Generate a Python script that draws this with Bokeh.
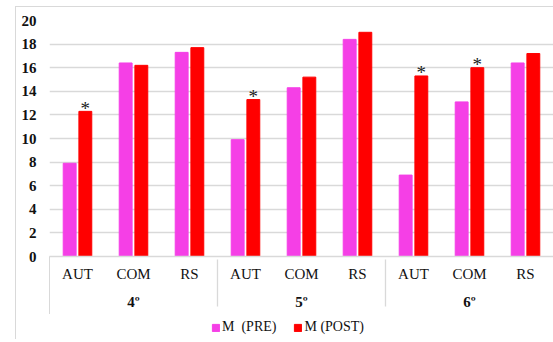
from bokeh.plotting import figure
from bokeh.layouts import column
from bokeh.models import (FactorRange, Legend, LegendItem, ColumnDataSource, Range1d,
                          InlineStyleSheet)
from bokeh.transform import dodge
from bokeh.core.properties import value
from bokeh.embed import file_html
from bokeh.resources import INLINE

grades = ["4º", "5º", "6º"]
dims = ["AUT", "COM", "RS"]
pre = [7.9, 16.4, 17.3, 9.9, 14.3, 18.4, 6.9, 13.1, 16.4]
post = [12.3, 16.2, 17.7, 13.3, 15.2, 19.0, 15.3, 16.0, 17.2]
marks = ["*", "", "", "*", "", "", "*", "*", ""]
y_ticks = [0, 2, 4, 6, 8, 10, 12, 14, 16, 18, 20]
series_labels = ["M  (PRE)", "M (POST)"]

PRE_COLOR = "#f53fe6"
POST_COLOR = "#ff0000"
FONT = "Liberation Serif"

factors = [(g, d) for g in grades for d in dims]
src = ColumnDataSource(dict(x=factors, pre=pre, post=post, mark=marks))

p = figure(frame_width=504, frame_height=236, output_backend="svg", toolbar_location=None,
           x_range=FactorRange(*factors, factor_padding=0, group_padding=0, range_padding=0),
           y_range=(0, 20))
p.min_border_left = 49
p.min_border_right = 0
p.min_border_top = 20
p.min_border_bottom = 0
p.outline_line_color = None
p.border_fill_color = None

p.vbar(x=dodge("x", -0.14, range=p.x_range), top="pre", width=0.23, source=src,
       fill_color=PRE_COLOR, line_color=PRE_COLOR)
p.vbar(x=dodge("x", 0.14, range=p.x_range), top="post", width=0.23, source=src,
       fill_color=POST_COLOR, line_color=POST_COLOR)
p.text(x=dodge("x", 0.14, range=p.x_range), y="post", text="mark", source=src,
       text_align="center", text_baseline="alphabetic", y_offset=-3,
       text_font=value(FONT), text_font_size="19px", text_color="#222222")

p.xgrid.grid_line_color = None
p.ygrid.grid_line_color = "#d9d9d9"
p.ygrid.grid_line_width = 1.3

ya = p.yaxis[0]
ya.ticker = y_ticks
ya.axis_line_color = None
ya.major_tick_line_color = None
ya.minor_tick_line_color = None
ya.major_tick_out = 0
ya.major_label_text_font = FONT
ya.major_label_text_font_size = "15px"
ya.major_label_text_font_style = "bold"
ya.major_label_text_color = "#111111"
ya.major_label_standoff = 13

xa = p.xaxis[0]
xa.axis_line_color = "#d9d9d9"
xa.axis_line_width = 1.3
xa.major_tick_line_color = None
xa.minor_tick_line_color = None
xa.major_tick_out = 0
xa.major_tick_in = 0
xa.axis_label = None
xa.major_label_text_font = FONT
xa.major_label_text_font_size = "15px"
xa.major_label_text_color = "#111111"
xa.major_label_standoff = 9
xa.group_text_font = FONT
xa.group_text_font_size = "15px"
xa.group_text_font_style = "bold"
xa.group_text_color = "#111111"
xa.separator_line_color = "#d9d9d9"
xa.separator_line_width = 1.3

# legend strip below the chart
lg = figure(width=553, height=27, output_backend="svg", toolbar_location=None,
            x_axis_location=None, y_axis_location=None,
            x_range=Range1d(0, 1), y_range=Range1d(0, 1), min_border=0)
lg.outline_line_color = None
lg.border_fill_color = None
lg.background_fill_color = None
lg.grid.visible = False
proxy = ColumnDataSource(dict(x=[-1.0], top=[0.0]))  # off-screen legend proxies
k_pre = lg.vbar(x="x", top="top", width=0.1, source=proxy,
                fill_color=PRE_COLOR, line_color=PRE_COLOR)
k_post = lg.vbar(x="x", top="top", width=0.1, source=proxy,
                 fill_color=POST_COLOR, line_color=POST_COLOR)
legend = Legend(items=[LegendItem(label=series_labels[0], renderers=[k_pre]),
                       LegendItem(label=series_labels[1], renderers=[k_post])],
                orientation="horizontal", location=(162, 4),
                label_text_font=FONT, label_text_font_size="14px", label_text_color="#111111",
                glyph_width=9, glyph_height=9, spacing=17, padding=2, margin=0,
                border_line_color=None, background_fill_alpha=0, label_standoff=2)
lg.add_layout(legend)

frame_css = InlineStyleSheet(css="""
:host { position: relative; }
:host::after { content: ''; position: absolute; left: 15px; top: 6px; right: 0; bottom: 0;
  border-left: 1px solid #d9d9d9; border-top: 1px solid #d9d9d9; pointer-events: none; }
:host::before { content: ''; position: absolute; left: 49px; top: 256px; width: 0; height: 58px;
  border-left: 1px solid #d9d9d9; pointer-events: none; }
""")
layout = column(p, lg, spacing=0, stylesheets=[frame_css])
open("out.html", "w").write(file_html(layout, INLINE))
